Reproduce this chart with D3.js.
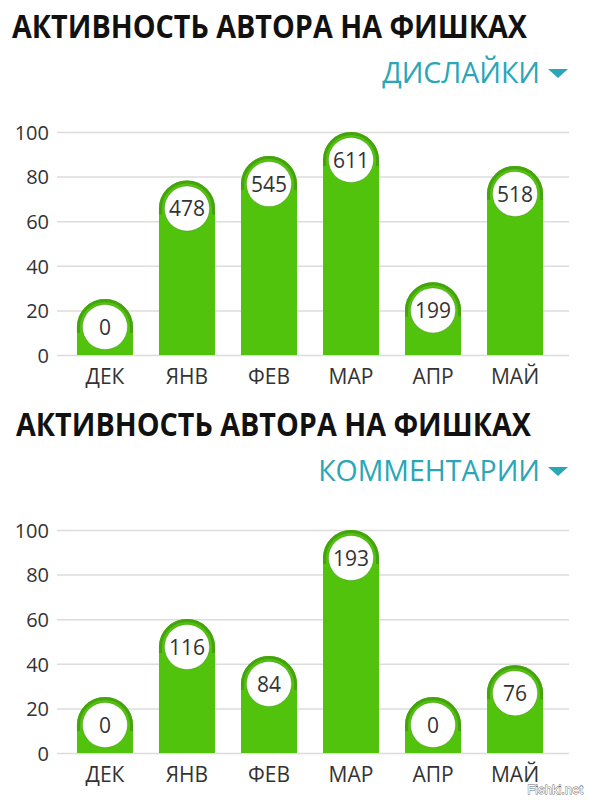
<!DOCTYPE html>
<meta charset="utf-8">
<style>
body { margin: 0; background: #fff; }
.title { font-family: "Open Sans", sans-serif; font-weight: bold; fill: #111; }
.sub { font-family: "Open Sans", sans-serif; fill: #2aa6b6; }
.tick text { font-family: "Open Sans", sans-serif; fill: #333; }
.month { font-family: "Open Sans", sans-serif; fill: #333; }
.val { font-family: "Open Sans", sans-serif; fill: #333; }
</style>
<body>
<script src="https://cdn.jsdelivr.net/npm/d3@7"></script>
<script>
// data
var months = ["ДЕК", "ЯНВ", "ФЕВ", "МАР", "АПР", "МАЙ"];
var dislikes = [0, 478, 545, 611, 199, 518];
var comments = [0, 116, 84, 193, 0, 76];
var yTicks = [0, 20, 40, 60, 80, 100];
var titleText = "АКТИВНОСТЬ АВТОРА НА ФИШКАХ";

var W = 589, H = 800;
var svg = d3.select("body").append("svg")
    .attr("width", W)
    .attr("height", H);

function drawChart(top, titleX, subtitle, values) {
  var g = svg.append("g").attr("transform", "translate(0," + top + ")");

  // title
  g.append("text")
      .attr("class", "title")
      .attr("x", titleX)
      .attr("y", 38)
      .attr("font-size", 32)
      .attr("textLength", 515)
      .attr("lengthAdjust", "spacingAndGlyphs")
      .text(titleText);

  // subtitle + triangle
  g.append("text")
      .attr("class", "sub")
      .attr("x", 540)
      .attr("y", 83)
      .attr("font-size", 28.5)
      .attr("text-anchor", "end")
      .text(subtitle);
  g.append("path")
      .attr("d", "M548,69 L568,69 L558,78 Z")
      .attr("fill", "#2aa6b6");

  var y = d3.scaleLinear().domain([0, 100]).range([355, 132]);
  var x = d3.scaleBand().domain(months).range([64, 556]).paddingInner(0.317).paddingOuter(0.158);

  // grid
  var axis = g.append("g")
      .attr("transform", "translate(57,0)")
      .call(d3.axisLeft(y).tickValues(yTicks).tickSize(-512).tickPadding(8));
  axis.select(".domain").remove();
  axis.selectAll(".tick line").attr("stroke", "#dcdcdc").attr("stroke-width", 1.5);
  axis.selectAll(".tick text").attr("font-size", 20).attr("dy", "0.36em");

  var max = d3.max(values);
  var bw = x.bandwidth(), r = bw / 2;

  var bars = g.selectAll(".bar")
      .data(values)
    .enter().append("g")
      .attr("class", "bar");

  function topY(d) {
    var t = y(d / max * 100);
    return Math.min(t, y(0) - bw);
  }

  bars.append("path")
      .attr("fill", "#52c30c")
      .attr("d", function(d, i) {
        var x0 = x(months[i]), x1 = x0 + bw, t = topY(d), b = y(0);
        return "M" + x0 + "," + b + "L" + x0 + "," + (t + r) +
          "A" + r + "," + r + " 0 0 1 " + x1 + "," + (t + r) +
          "L" + x1 + "," + b + "Z";
      });

  // darker rim on the rounded top
  bars.append("path")
      .attr("fill", "none")
      .attr("stroke", "#44a30f")
      .attr("stroke-width", 3)
      .attr("d", function(d, i) {
        var x0 = x(months[i]) + 1.5, x1 = x(months[i]) + bw - 1.5, t = topY(d) + 1.5, rr = r - 1.5;
        return "M" + x0 + "," + (t + rr + 6) + "L" + x0 + "," + (t + rr) +
          "A" + rr + "," + rr + " 0 0 1 " + x1 + "," + (t + rr) + "L" + x1 + "," + (t + rr + 6);
      });

  bars.append("circle")
      .attr("cx", function(d, i) { return x(months[i]) + r; })
      .attr("cy", function(d) { return topY(d) + r; })
      .attr("r", 22.5)
      .attr("fill", "#fff")
      .attr("stroke", "rgba(40,90,0,0.25)")
      .attr("stroke-width", 1);

  bars.append("text")
      .attr("class", "val")
      .attr("x", function(d, i) { return x(months[i]) + r; })
      .attr("y", function(d) { return topY(d) + r; })
      .attr("dy", "0.36em")
      .attr("text-anchor", "middle")
      .attr("font-size", 21)
      .text(function(d) { return d; });

  g.selectAll(".month")
      .data(months)
    .enter().append("text")
      .attr("class", "month")
      .attr("x", function(d) { return x(d) + r; })
      .attr("y", 384)
      .attr("text-anchor", "middle")
      .attr("font-size", 21)
      .text(function(d) { return d; });
}

drawChart(0, 12, "ДИСЛАЙКИ", dislikes);
drawChart(398, 16, "КОММЕНТАРИИ", comments);

// watermark
svg.append("text")
    .attr("x", 583)
    .attr("y", 794)
    .attr("text-anchor", "end")
    .attr("font-family", "Liberation Sans, sans-serif")
    .attr("font-size", 13)
    .attr("fill", "#fff")
    .attr("stroke", "#666")
    .attr("stroke-width", 0.8)
    .attr("paint-order", "stroke")
    .text("Fishki.net");
</script>
</body>
